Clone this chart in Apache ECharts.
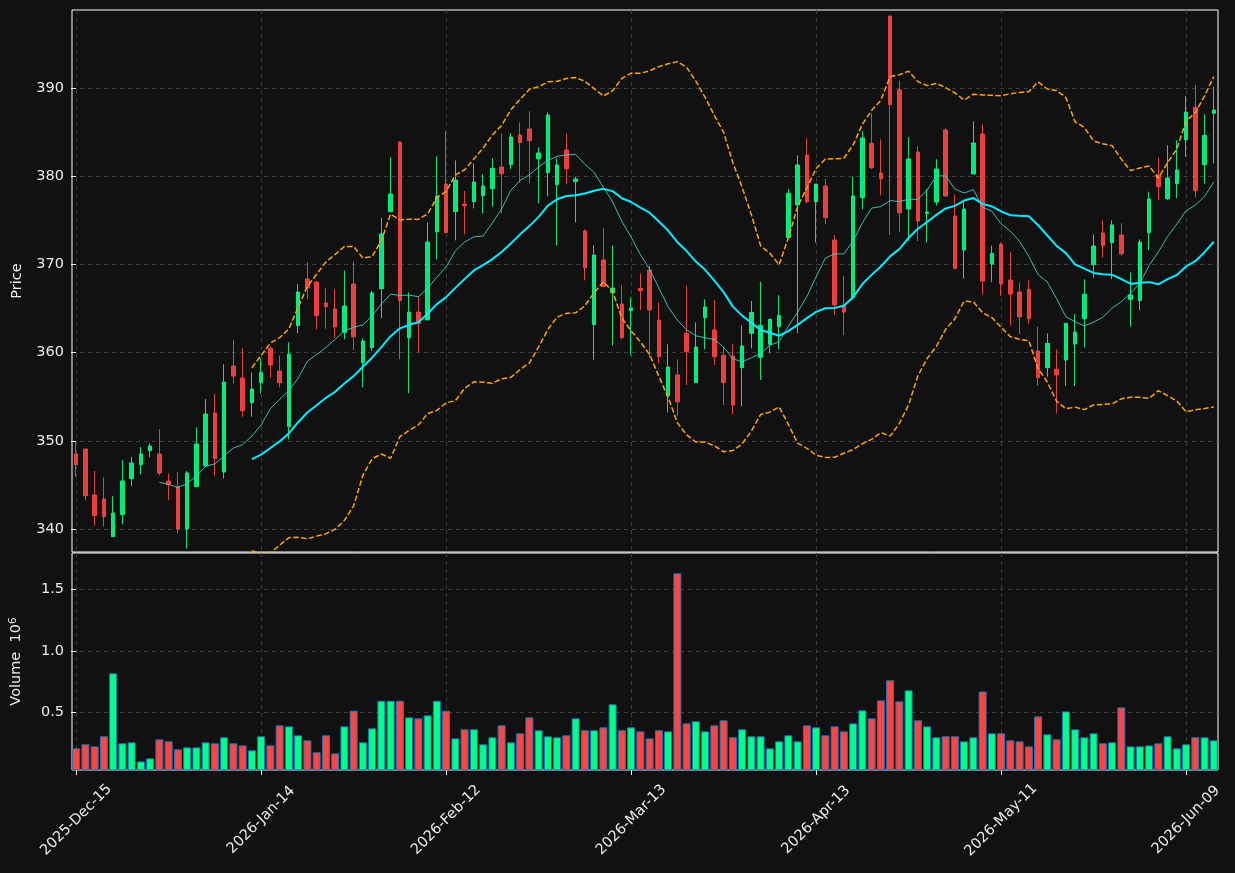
<!DOCTYPE html>
<html><head><meta charset="utf-8">
<script src="https://cdn.jsdelivr.net/npm/echarts@6/dist/echarts.min.js"></script>
<style>html,body{margin:0;padding:0;background:#111111;}#c{width:1235px;height:873px;}</style>
</head><body><div id="c"></div>
<script>
// trading calendar (NYSE sessions starting 2025-12-15)
const startDate = '2025-12-15';
const holidays = ['2025-12-25','2026-01-01','2026-01-19','2026-02-16','2026-04-03','2026-05-25'];
const dateTickIdx = [0, 20, 40, 60, 80, 100, 120];
const priceTicks = [340, 350, 360, 370, 380, 390];
const volumeTicks = [0.5, 1.0, 1.5];

const opens = [348.51,349.07,343.86,343.40,339.13,341.63,345.71,347.30,348.88,348.51,
345.44,344.80,340.00,344.80,347.15,353.16,346.46,358.49,357.13,354.33,
356.60,360.49,357.92,351.61,363.06,368.36,368.02,365.63,364.95,362.31,
367.79,358.87,360.57,367.26,375.99,383.89,361.70,364.61,363.71,373.72,
379.13,375.99,376.86,377.13,377.81,378.60,381.06,381.32,384.69,385.37,
382.00,380.42,379.05,382.99,379.40,373.80,363.18,370.51,366.81,365.52,
364.76,367.30,369.38,363.71,355.12,357.47,362.19,356.60,363.97,362.57,
359.70,359.62,358.30,362.19,359.47,360.95,362.95,373.04,376.75,382.42,
377.13,378.90,372.78,365.40,366.24,377.58,383.74,380.38,398.19,389.81,
376.30,382.76,375.77,377.09,385.25,375.50,371.64,380.26,384.80,370.05,
372.30,368.24,366.88,367.18,360.19,358.30,358.11,359.17,360.98,363.86,
369.98,373.57,372.48,373.35,366.05,365.90,373.61,380.15,377.47,379.17,
384.16,387.83,381.32,387.15];

const highs = [349.90,349.10,346.58,345.86,343.71,347.79,348.17,349.30,349.75,351.34,
346.31,346.43,346.58,351.53,354.74,355.31,358.68,361.44,360.49,357.77,
359.36,360.70,359.66,361.17,367.79,370.25,368.10,367.30,367.18,369.34,
370.32,361.63,366.99,375.27,382.15,383.95,366.84,366.43,374.78,382.27,
385.10,381.81,378.34,381.47,380.23,382.04,384.88,384.88,386.12,387.37,
383.29,387.26,382.04,384.88,379.96,373.99,372.17,374.10,372.17,367.64,
366.28,369.00,369.87,365.71,360.95,359.24,367.60,363.44,366.05,365.94,
360.68,360.95,363.10,365.86,368.02,363.86,366.50,378.56,382.38,384.31,
379.13,379.73,373.35,368.70,379.96,385.14,387.15,384.20,398.20,390.86,
384.46,383.44,378.56,381.93,385.48,377.92,377.09,386.24,385.90,372.14,
372.50,371.46,367.98,368.20,362.95,362.19,360.38,363.33,364.35,368.32,
373.42,375.01,375.01,374.67,369.11,372.85,378.26,382.15,383.52,384.08,
389.11,390.36,387.03,390.17];

const lows = [345.94,343.25,340.38,340.30,339.13,340.53,344.84,346.20,348.13,346.09,
343.25,339.51,337.77,344.80,347.15,345.97,345.71,356.52,352.74,352.74,
355.39,357.16,356.07,350.17,362.19,366.05,362.65,362.72,361.70,361.51,
360.30,356.07,360.19,363.89,375.99,359.24,355.39,360.04,363.71,370.59,
373.61,372.74,373.42,376.37,375.80,376.56,375.80,380.83,379.32,379.21,
376.94,377.73,372.17,379.09,374.78,368.20,359.17,367.49,360.83,361.51,
359.70,364.84,359.47,358.79,353.23,352.82,356.33,356.60,360.38,358.60,
354.06,353.04,353.95,360.49,356.90,359.92,360.38,373.04,362.19,376.94,
372.51,374.56,364.27,362.00,366.00,376.26,380.83,377.85,373.35,373.65,
372.67,372.67,372.51,376.71,377.69,369.53,368.39,380.26,366.60,368.00,
366.43,363.06,362.12,363.21,356.26,357.28,353.12,356.22,356.22,360.57,
368.51,370.81,368.32,371.00,362.95,364.84,371.64,377.32,377.32,377.54,
382.23,377.62,379.17,381.47];

const closes = [347.30,343.78,341.51,341.40,341.81,345.44,347.49,348.51,349.41,346.35,
345.03,340.00,346.35,349.64,353.04,347.98,356.67,357.35,353.42,355.88,
357.73,358.60,356.60,359.85,366.88,367.37,364.20,365.22,362.95,365.29,
361.81,361.32,366.77,373.46,377.99,365.90,364.61,363.33,372.55,377.77,
373.61,379.58,376.67,379.36,378.90,380.91,380.30,384.46,383.82,384.05,
382.65,386.96,381.29,380.87,379.70,369.64,371.08,367.49,367.33,361.70,
365.07,367.03,364.84,359.55,358.37,354.44,360.11,360.64,365.18,359.55,
356.60,354.06,360.76,364.57,363.10,363.78,364.23,378.07,381.29,377.13,
379.13,375.31,365.41,364.60,377.77,384.35,380.98,379.73,388.13,375.88,
381.97,374.93,375.95,380.83,377.77,369.53,376.30,383.78,368.13,371.26,
367.80,366.65,364.08,363.86,357.16,361.06,357.47,363.33,362.34,366.62,
372.10,372.14,374.48,371.23,366.54,372.55,377.43,378.83,379.81,380.72,
387.30,378.37,384.65,387.52];

// volume in millions
const volumes = [0.207,0.240,0.223,0.305,0.817,0.248,0.256,0.101,0.126,0.280,
0.264,0.199,0.215,0.215,0.256,0.248,0.297,0.248,0.231,0.191,
0.305,0.231,0.394,0.386,0.313,0.272,0.175,0.313,0.166,0.386,
0.513,0.256,0.370,0.594,0.594,0.594,0.459,0.451,0.475,0.594,
0.513,0.288,0.362,0.362,0.240,0.297,0.394,0.256,0.329,0.459,
0.354,0.305,0.297,0.313,0.451,0.354,0.354,0.378,0.565,0.354,
0.378,0.345,0.288,0.354,0.345,1.630,0.410,0.427,0.345,0.394,
0.435,0.297,0.362,0.305,0.305,0.207,0.264,0.313,0.264,0.394,
0.378,0.313,0.386,0.345,0.410,0.516,0.451,0.597,0.760,0.589,
0.679,0.435,0.386,0.297,0.305,0.305,0.264,0.297,0.669,0.329,
0.329,0.272,0.264,0.223,0.467,0.321,0.280,0.507,0.362,0.297,
0.329,0.248,0.256,0.540,0.223,0.223,0.231,0.248,0.305,0.207,
0.240,0.297,0.297,0.272];

// ---- build trading dates
const MON = ['Jan','Feb','Mar','Apr','May','Jun','Jul','Aug','Sep','Oct','Nov','Dec'];
const dates = [];
(function(){
  let d = new Date(startDate + 'T00:00:00Z');
  while (dates.length < closes.length) {
    const iso = d.toISOString().slice(0,10);
    const wd = d.getUTCDay();
    if (wd !== 0 && wd !== 6 && holidays.indexOf(iso) < 0) {
      dates.push(d.getUTCFullYear() + '-' + MON[d.getUTCMonth()] + '-' + String(d.getUTCDate()).padStart(2,'0'));
    }
    d = new Date(d.getTime() + 86400000);
  }
})();

// ---- indicators derived from the closes
function rolling(n, fn) {
  const out = [];
  for (let i = n - 1; i < closes.length; i++) out.push([i, fn(closes.slice(i - n + 1, i + 1))]);
  return out;
}
const mean = a => a.reduce((s, v) => s + v, 0) / a.length;
const sd = a => { const m = mean(a); return Math.sqrt(a.reduce((s, v) => s + (v - m) * (v - m), 0) / (a.length - 1)); };
const ma10 = rolling(10, mean);
const ma20 = rolling(20, mean);
const bbUpper = rolling(20, a => mean(a) + 2 * sd(a));
const bbLower = rolling(20, a => mean(a) - 2 * sd(a));

const UP = '#00ff88', DOWN = '#ff4444';
const candleData = closes.map((c, i) => [i, opens[i], c, lows[i], highs[i]]);
const volData = volumes.map((v, i) => ({
  value: [i, v],
  itemStyle: { color: closes[i] >= opens[i] ? UP : DOWN }
}));

const FONT = 'DejaVu Sans';
const TXT = '#ececec';
const gridLine = { show: true, lineStyle: { color: '#3c3c3c', type: [4, 4], width: 1 } };
const xMin = -0.45, xMax = closes.length - 1 + 0.45;

const chart = echarts.init(document.getElementById('c'), null, { renderer: 'canvas' });
chart.setOption({
  backgroundColor: '#111111',
  animation: false,
  textStyle: { fontFamily: FONT },
  grid: [
    { left: 72, right: 17, top: 10, height: 542, show: true, borderColor: '#ffffff', borderWidth: 1, backgroundColor: 'transparent' },
    { left: 72, right: 17, top: 553, height: 217, show: true, borderColor: '#ffffff', borderWidth: 1, backgroundColor: 'transparent' }
  ],
  xAxis: [
    { type: 'value', gridIndex: 0, min: xMin, max: xMax,
      axisLine: { show: false }, axisTick: { show: false, customValues: dateTickIdx },
      axisLabel: { show: false, customValues: dateTickIdx }, splitLine: gridLine },
    { type: 'value', gridIndex: 1, min: xMin, max: xMax,
      axisLine: { show: false },
      axisTick: { show: true, customValues: dateTickIdx, length: 5, lineStyle: { color: '#ffffff' } },
      axisLabel: { customValues: dateTickIdx, rotate: 45, align: 'center', verticalAlign: 'middle',
        color: TXT, fontSize: 14.5, fontFamily: FONT, margin: 50,
        formatter: v => dates[Math.round(v)] || '' },
      splitLine: gridLine }
  ],
  yAxis: [
    { type: 'value', gridIndex: 0, min: 337.39, max: 398.87, scale: true,
      name: 'Price', nameLocation: 'middle', nameGap: 47, nameRotate: 90,
      nameTextStyle: { color: TXT, fontSize: 14.5, fontFamily: FONT },
      axisLine: { show: false },
      axisTick: { show: true, customValues: priceTicks, length: 5, lineStyle: { color: '#ffffff' } },
      axisLabel: { customValues: priceTicks, color: TXT, fontSize: 14.5, fontFamily: FONT, margin: 8 },
      splitLine: gridLine },
    { type: 'value', gridIndex: 1, min: 0.031, max: 1.795,
      name: 'Volume  10{sup|6}', nameLocation: 'middle', nameGap: 47, nameRotate: 90,
      nameTextStyle: { color: TXT, fontSize: 14.5, fontFamily: FONT,
        rich: { sup: { color: TXT, fontSize: 10.5, fontFamily: FONT, verticalAlign: 'top', padding: [0, 0, 6, 0] } } },
      axisLine: { show: false },
      axisTick: { show: true, customValues: volumeTicks, length: 5, lineStyle: { color: '#ffffff' } },
      axisLabel: { customValues: volumeTicks, color: TXT, fontSize: 14.5, fontFamily: FONT, margin: 8,
        formatter: v => v.toFixed(1) },
      splitLine: gridLine }
  ],
  series: [
    { type: 'candlestick', xAxisIndex: 0, yAxisIndex: 0, data: candleData,
      encode: { x: 0, y: [1, 2, 3, 4] }, barWidth: 4,
      itemStyle: { color: UP, color0: DOWN, borderColor: UP, borderColor0: DOWN, borderWidth: 1, opacity: 0.9 },
      z: 2 },
    { type: 'line', xAxisIndex: 0, yAxisIndex: 0, data: ma10, symbol: 'none',
      lineStyle: { color: '#40d8cc', width: 1, opacity: 0.85 }, z: 3 },
    { type: 'line', xAxisIndex: 0, yAxisIndex: 0, data: ma20, symbol: 'none',
      lineStyle: { color: '#00eeff', width: 2 }, z: 4 },
    { type: 'line', xAxisIndex: 0, yAxisIndex: 0, data: bbUpper, symbol: 'none',
      lineStyle: { color: '#ffa500', width: 1.5, type: [5.5, 2.4] }, z: 4 },
    { type: 'line', xAxisIndex: 0, yAxisIndex: 0, data: bbLower, symbol: 'none',
      lineStyle: { color: '#ffa500', width: 1.5, type: [5.5, 2.4] }, z: 4 },
    { type: 'bar', xAxisIndex: 1, yAxisIndex: 1, data: volData, barWidth: 8,
      itemStyle: { borderColor: '#1f77b4', borderWidth: 1 } }
  ]
});
</script>
</body></html>
